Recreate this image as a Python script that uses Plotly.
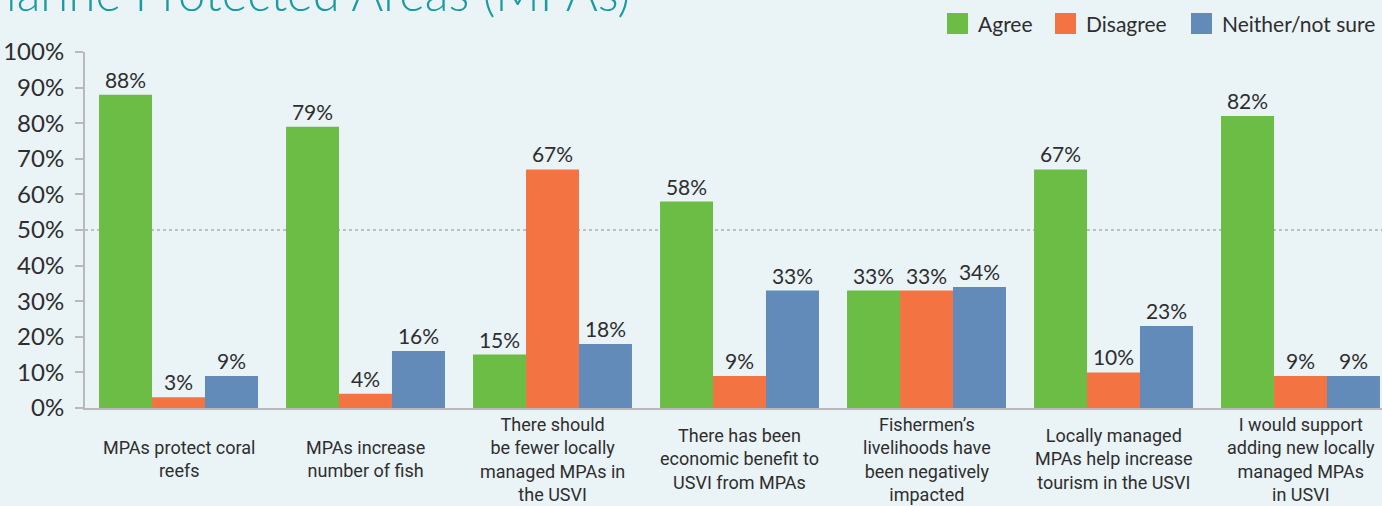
import plotly.graph_objects as go

# Survey statements (x categories) and responses in percent
categories = [
    "MPAs protect coral<br>reefs",
    "MPAs increase<br>number of fish",
    "There should<br>be fewer locally<br>managed MPAs in<br>the USVI",
    "There has been<br>economic benefit to<br>USVI from MPAs",
    "Fishermen’s<br>livelihoods have<br>been negatively<br>impacted",
    "Locally managed<br>MPAs help increase<br>tourism in the USVI",
    "I would support<br>adding new locally<br>managed MPAs<br>in USVI",
]
agree = [88, 79, 15, 58, 33, 67, 82]
disagree = [3, 4, 67, 9, 33, 10, 9]
neither = [9, 16, 18, 33, 34, 23, 9]

series_names = ["Agree", "Disagree", "Neither/not sure"]
series_values = [agree, disagree, neither]
series_colors = ["#6cbd45", "#f37442", "#628bba"]

y_ticks = [0, 10, 20, 30, 40, 50, 60, 70, 80, 90, 100]
y_tick_labels = [f"{v}%" for v in y_ticks]
title_text = "Marine Protected Areas (MPAs)"

# Page geometry
W, H = 1382, 506
L, R, T, B = 85, 0, 52, 98
PW, PH = W - L - R, H - T - B
BG = "#eaf3f6"
TXT = "#2e2e2e"


def px_x(px):
    return (px - L) / PW


def px_y(py):
    return (H - B - py) / PH


fig = go.Figure()
for name, vals, col in zip(series_names, series_values, series_colors):
    fig.add_trace(go.Bar(
        x=categories, y=vals, name=name,
        marker=dict(color=col, line=dict(width=0)),
        text=[f"{v}%" for v in vals], textposition="outside",
        textfont=dict(family="Lato", size=21, color=TXT),
        constraintext="none", cliponaxis=False,
        showlegend=False,
    ))

# dotted 50% reference line behind the bars
fig.add_shape(type="line", xref="paper", x0=0, x1=1, yref="y", y0=50, y1=50,
              line=dict(color="#aab0b3", width=1.5, dash="dot"), layer="below")

annotations = []
# category labels, vertically centred under each group
for cat in categories:
    annotations.append(dict(
        x=cat, xref="x", y=px_y(459), yref="paper",
        text=cat, showarrow=False, xanchor="center", yanchor="middle",
        align="center", font=dict(family="Roboto", size=18, color=TXT),
    ))

# legend
legend_left = [947, 1055, 1191]
for name, col, lx in zip(series_names, series_colors, legend_left):
    fig.add_shape(type="rect", xref="paper", yref="paper",
                  x0=px_x(lx), x1=px_x(lx + 21), y0=px_y(34), y1=px_y(13),
                  fillcolor=col, line=dict(width=0))
    annotations.append(dict(
        x=px_x(lx + 29), y=px_y(23.5), xref="paper", yref="paper",
        text=name, showarrow=False, xanchor="left", yanchor="middle",
        font=dict(family="Lato", size=21, color=TXT),
    ))

# heading, partly above the page edge
annotations.append(dict(
    x=px_x(632), y=px_y(23), xref="paper", yref="paper",
    text=title_text, showarrow=False, xanchor="right", yanchor="bottom",
    font=dict(family="Lato", size=49, color="#1b9aa0", weight=300),
))

fig.update_layout(
    width=W, height=H,
    margin=dict(l=L, r=R, t=T, b=B, pad=0),
    paper_bgcolor=BG, plot_bgcolor=BG,
    barmode="group", bargap=0.15, bargroupgap=0,
    showlegend=False,
    annotations=annotations,
    xaxis=dict(
        type="category", range=[-0.5, (W - L) / 187 - 0.5],
        showticklabels=False, ticks="", showgrid=False, zeroline=False,
        showline=True, linecolor="#b9b9b9", linewidth=2,
    ),
    yaxis=dict(
        range=[0, 100], tickmode="array", tickvals=y_ticks, ticktext=y_tick_labels,
        ticks="outside", ticklen=8, tickcolor="#b9b9b9", tickwidth=1.5,
        ticklabelstandoff=6,
        tickfont=dict(family="Lato", size=24, color=TXT),
        showgrid=False, zeroline=False,
        showline=True, linecolor="#b9b9b9", linewidth=2,
    ),
)

fig.write_html("out.html")
